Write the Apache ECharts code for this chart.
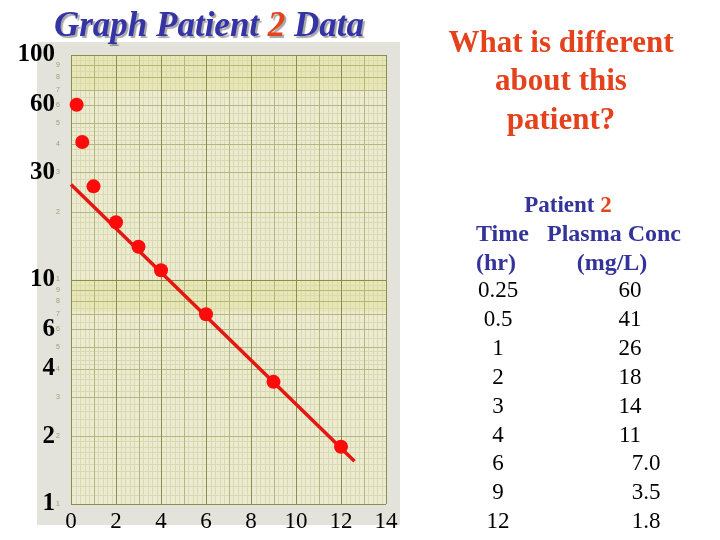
<!DOCTYPE html>
<html><head><meta charset="utf-8">
<script src="https://cdn.jsdelivr.net/npm/echarts@6.0.0/dist/echarts.min.js"></script>
<style>html,body{margin:0;padding:0;background:#fff;}#c{width:720px;height:540px;}</style>
</head><body><div id="c"></div>
<script>
// ---- data ----
const timeHr = [0.25, 0.5, 1, 2, 3, 4, 6, 9, 12];
const plasmaConc = [60, 41, 26, 18, 14, 11, 7.0, 3.5, 1.8];
const timeLabels = ['0.25', '0.5', '1', '2', '3', '4', '6', '9', '12'];
const concLabels = ['60', '41', '26', '18', '14', '11', '7.0', '3.5', '1.8'];
const fitLine = [[0, 26.5], [12.6, 1.55]];
const yTickLabels = [1, 2, 4, 6, 10, 30, 60, 100];
const xTickLabels = [0, 2, 4, 6, 8, 10, 12, 14];

const chart = echarts.init(document.getElementById('c'), null, {renderer: 'canvas'});

const SERIF = '"Liberation Serif", "Times New Roman", serif';
const MINOR = '#d9d9b2', MEDIUM = '#b5b57e', MAJOR = '#8c8c4e';

function paperGrid(params, api) {
  const ch = [];
  const tl = api.coord([0, 100]), br = api.coord([14, 1]);
  const L = tl[0], R = br[0], T = tl[1], B = br[1];
  // photographic yellow bands
  [[100, 70], [10, 7.2]].forEach(b => {
    const y1 = api.coord([0, b[0]])[1], y2 = api.coord([0, b[1]])[1];
    ch.push({type: 'rect', shape: {x: L, y: y1, width: R - L, height: y2 - y1}, style: {fill: '#e7e7b4'}});
  });
  const lines = {minor: [], medium: [], major: []};
  // vertical
  for (let k = 0; k <= 70; k++) {
    const x = Math.round(api.coord([k * 0.2, 1])[0]) + 0.5;
    const kind = k % 10 === 0 ? 'major' : (k % 5 === 0 ? 'medium' : 'minor');
    lines[kind].push([x, T, x, B]);
  }
  // horizontal (log paper)
  [1, 10].forEach(dec => {
    const vals = [];
    for (let v = 1; v < 2 - 1e-9; v += 0.1) vals.push(v);
    for (let v = 2; v < 5 - 1e-9; v += 0.2) vals.push(v);
    for (let v = 5; v <= 10 + 1e-9; v += 0.5) vals.push(v);
    vals.forEach(v => {
      const r = Math.round(v * 10) / 10;
      const y = Math.round(api.coord([0, r * dec])[1]) + 0.5;
      const kind = (r === 1 || r === 10) ? 'major' : (Math.abs(r - Math.round(r)) < 1e-6 ? 'medium' : 'minor');
      lines[kind].push([L, y, R, y]);
    });
  });
  const col = {minor: MINOR, medium: MEDIUM, major: MAJOR};
  ['minor', 'medium', 'major'].forEach(kind => {
    lines[kind].forEach(s => ch.push({type: 'line', shape: {x1: s[0], y1: s[1], x2: s[2], y2: s[3]}, style: {stroke: col[kind], lineWidth: 1}}));
  });
  // paper's own tiny scale numbers
  [1, 10].forEach(dec => {
    for (let n = 1; n <= 9; n++) {
      const y = api.coord([0, n * dec])[1];
      ch.push({type: 'text', x: L - 13, y: y, style: {text: String(n), fontSize: 7, fill: '#a0a070', align: 'center', verticalAlign: 'middle'}});
    }
  });
  return {type: 'group', children: ch};
}

const graphics = [
  {type: 'rect', z: -10, shape: {x: 37, y: 42, width: 363, height: 483}, style: {fill: '#e3e3db'}},
  {type: 'text', x: 209, y: 27, style: {
    text: '{a|Graph Patient }{b|2}{a| Data}', align: 'center', verticalAlign: 'middle',
    rich: {
      a: {font: 'italic bold 35px ' + SERIF, fill: '#3434a6', textShadowColor: 'rgba(0,0,0,0.35)', textShadowOffsetX: 2, textShadowOffsetY: 2, textShadowBlur: 1},
      b: {font: 'italic bold 35px ' + SERIF, fill: '#e2441c', textShadowColor: 'rgba(0,0,0,0.35)', textShadowOffsetX: 2, textShadowOffsetY: 2, textShadowBlur: 1}
    }}},
  {type: 'text', x: 561, y: 82, style: {
    text: 'What is different\nabout this\npatient?', align: 'center', verticalAlign: 'middle',
    font: 'bold 31px ' + SERIF, fill: '#e4421c', lineHeight: 38.5}},
  {type: 'text', x: 568, y: 206, style: {
    text: '{a|Patient }{b|2}', align: 'center', verticalAlign: 'middle',
    rich: {a: {font: 'bold 23px ' + SERIF, fill: '#333399'}, b: {font: 'bold 23px ' + SERIF, fill: '#e2441c'}}}},
  {type: 'text', x: 476, y: 235, style: {text: 'Time', align: 'left', verticalAlign: 'middle', font: 'bold 24px ' + SERIF, fill: '#333399'}},
  {type: 'text', x: 547, y: 235, style: {text: 'Plasma Conc', align: 'left', verticalAlign: 'middle', font: 'bold 24px ' + SERIF, fill: '#333399'}},
  {type: 'text', x: 476, y: 264, style: {text: '(hr)', align: 'left', verticalAlign: 'middle', font: 'bold 24px ' + SERIF, fill: '#333399'}},
  {type: 'text', x: 612, y: 264, style: {text: '(mg/L)', align: 'center', verticalAlign: 'middle', font: 'bold 24px ' + SERIF, fill: '#333399'}}
];
timeLabels.forEach((t, i) => {
  const y = 291 + i * 28.9;
  graphics.push({type: 'text', x: 498, y: y, style: {text: t, align: 'center', verticalAlign: 'middle', font: '23px ' + SERIF, fill: '#000'}});
  const c = concLabels[i];
  graphics.push({type: 'text', x: c.indexOf('.') >= 0 ? 646 : 630, y: y, style: {text: c, align: 'center', verticalAlign: 'middle', font: '23px ' + SERIF, fill: '#000'}});
});

chart.setOption({
  backgroundColor: '#ffffff',
  animation: false,
  graphic: graphics,
  grid: {show: true, left: 71, top: 55, width: 315, height: 449, backgroundColor: '#ecebd2', borderWidth: 0, containLabel: false},
  xAxis: {
    type: 'value', min: 0, max: 14, interval: 2,
    axisLine: {show: false}, axisTick: {show: false}, splitLine: {show: false},
    axisLabel: {customValues: xTickLabels, fontFamily: SERIF, fontSize: 23, color: '#000', margin: 6}
  },
  yAxis: {
    type: 'log', logBase: 10, min: 1, max: 100,
    axisLine: {show: false}, axisTick: {show: false}, splitLine: {show: false},
    axisLabel: {customValues: yTickLabels, fontFamily: SERIF, fontWeight: 'bold', fontSize: 25, color: '#000', margin: 16}
  },
  series: [
    {type: 'custom', coordinateSystem: 'cartesian2d', silent: true, z: 1, data: [[0, 1]], renderItem: paperGrid},
    {type: 'line', z: 3, data: fitLine, showSymbol: false, lineStyle: {color: '#e5160f', width: 3.5}, silent: true},
    {type: 'scatter', z: 4, data: timeHr.map((t, i) => [t, plasmaConc[i]]), symbol: 'circle', symbolSize: 14, itemStyle: {color: '#ff0a0a', opacity: 1}, silent: true}
  ]
});
</script>
</body></html>
